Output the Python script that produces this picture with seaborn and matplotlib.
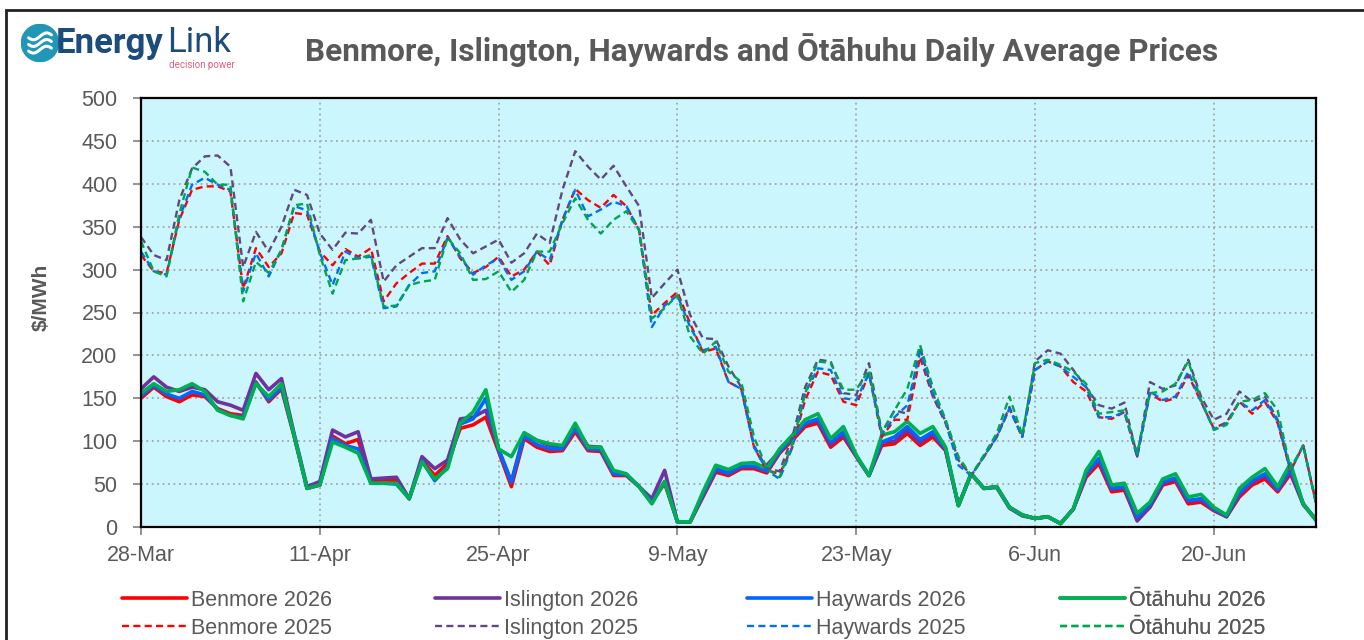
import numpy as np
import pandas as pd
import seaborn as sns
import matplotlib.pyplot as plt
from matplotlib.patches import Circle, Rectangle

# daily average prices ($/MWh), 28-Mar to 28-Jun
dates = pd.date_range("2026-03-28", "2026-06-28", freq="D")

benmore_2026 = [150, 163, 152, 146, 154, 152, 138, 132, 130, 169, 146, 161, 105, 45, 49, 106, 97, 102, 54, 55,
                54, 33, 78, 60, 74, 115, 119, 128, 88, 47, 103, 93, 88, 89, 111, 89, 88, 60, 60, 47,
                29, 51, 6, 6, 35, 64, 60, 68, 68, 63, 86, 101, 117, 121, 93, 105, 82, 60, 95, 97,
                109, 95, 105, 89, 25, 62, 45, 47, 23, 14, 10, 12, 4, 21, 58, 74, 41, 43, 8, 23,
                49, 53, 27, 29, 19, 12, 35, 49, 56, 41, 62, 27, 8]
islington_2026 = [161, 175, 163, 158, 163, 160, 146, 142, 136, 179, 160, 173, 108, 47, 53, 113, 105, 111, 56, 57,
                  58, 33, 82, 68, 78, 126, 128, 136, 91, 53, 109, 101, 95, 93, 117, 94, 93, 64, 61, 47,
                  33, 66, 6, 6, 37, 66, 62, 70, 70, 72, 88, 103, 120, 124, 96, 108, 83, 60, 99, 100,
                  113, 98, 109, 90, 25, 62, 45, 46, 22, 13, 10, 12, 4, 21, 61, 78, 44, 46, 7, 24,
                  51, 56, 30, 32, 20, 12, 38, 52, 60, 43, 65, 26, 9]
haywards_2026 = [153, 165, 155, 150, 158, 154, 137, 130, 128, 168, 148, 163, 106, 45, 49, 103, 95, 91, 51, 51,
                 50, 33, 77, 54, 70, 120, 126, 150, 90, 52, 106, 96, 91, 91, 115, 91, 90, 62, 61, 47,
                 28, 53, 6, 6, 38, 68, 63, 71, 71, 65, 88, 104, 121, 126, 99, 111, 83, 60, 99, 105,
                 117, 102, 111, 91, 25, 62, 45, 47, 23, 14, 10, 12, 4, 21, 62, 80, 45, 47, 12, 26,
                 53, 57, 31, 33, 21, 13, 40, 54, 62, 44, 68, 27, 8]
otahuhu_2026 = [156, 167, 158, 160, 167, 158, 136, 130, 126, 167, 152, 167, 106, 45, 49, 99, 93, 86, 51, 51,
                51, 33, 76, 56, 68, 121, 134, 160, 91, 82, 110, 101, 97, 95, 121, 93, 93, 66, 62, 47,
                27, 53, 6, 6, 41, 72, 67, 74, 75, 68, 91, 107, 125, 132, 103, 117, 84, 60, 107, 111,
                123, 109, 117, 93, 25, 62, 45, 47, 23, 14, 10, 12, 4, 21, 66, 88, 49, 51, 16, 29,
                56, 62, 35, 38, 23, 14, 45, 58, 68, 47, 74, 27, 8]

benmore_2025 = [317, 298, 296, 358, 393, 397, 397, 391, 278, 325, 303, 319, 366, 364, 321, 305, 324, 315, 325, 263,
                284, 296, 307, 307, 339, 313, 296, 303, 315, 292, 300, 321, 305, 358, 394, 381, 372, 387, 374, 346,
                247, 261, 274, 237, 204, 208, 169, 161, 93, 66, 62, 93, 148, 181, 177, 146, 142, 179, 105, 125,
                125, 198, 152, 121, 78, 60, 82, 105, 138, 105, 183, 193, 187, 169, 158, 128, 126, 134, 82, 156,
                146, 150, 177, 146, 115, 122, 146, 132, 146, 121, 65, 95, 28]
islington_2025 = [338, 317, 311, 381, 418, 432, 433, 420, 303, 344, 321, 350, 393, 387, 342, 323, 343, 342, 358, 286,
                  305, 315, 325, 325, 360, 335, 319, 327, 335, 308, 319, 342, 331, 393, 438, 420, 405, 421, 397, 374,
                  267, 284, 300, 247, 220, 219, 187, 163, 95, 68, 65, 105, 163, 195, 193, 156, 154, 191, 110, 136,
                  132, 210, 155, 123, 78, 60, 82, 105, 140, 105, 193, 206, 202, 183, 163, 142, 138, 145, 82, 169,
                  161, 165, 195, 152, 125, 132, 158, 146, 152, 125, 66, 95, 28]
haywards_2025 = [321, 298, 294, 360, 399, 407, 399, 393, 275, 319, 292, 323, 374, 369, 320, 282, 321, 313, 315, 255,
                 257, 282, 296, 298, 337, 315, 294, 305, 313, 288, 298, 321, 311, 358, 393, 362, 370, 379, 374, 346,
                 233, 258, 270, 233, 206, 210, 169, 161, 93, 66, 56, 93, 156, 185, 183, 150, 148, 179, 108, 128,
                 142, 204, 155, 122, 72, 60, 82, 105, 138, 105, 183, 193, 187, 175, 163, 128, 128, 134, 82, 158,
                 148, 152, 181, 146, 114, 121, 146, 136, 148, 123, 66, 95, 28]
otahuhu_2025 = [333, 298, 292, 365, 419, 414, 399, 399, 263, 309, 296, 323, 375, 377, 317, 272, 311, 313, 317, 257,
                258, 282, 286, 288, 337, 319, 288, 289, 298, 274, 288, 321, 321, 354, 383, 358, 342, 358, 368, 346,
                243, 255, 270, 222, 202, 216, 181, 169, 105, 68, 58, 97, 156, 193, 191, 160, 160, 183, 110, 136,
                161, 212, 163, 125, 82, 60, 84, 109, 152, 107, 191, 195, 189, 181, 167, 132, 134, 136, 86, 156,
                158, 167, 193, 148, 113, 119, 146, 148, 156, 136, 68, 95, 28]

series_2026 = [("Benmore 2026", benmore_2026, "#FF0000"),
               ("Islington 2026", islington_2026, "#7030A0"),
               ("Haywards 2026", haywards_2026, "#0066FF"),
               ("Ōtāhuhu 2026", otahuhu_2026, "#00B050")]
series_2025 = [("Benmore 2025", benmore_2025, "#FF0000"),
               ("Islington 2025", islington_2025, "#604A7B"),
               ("Haywards 2025", haywards_2025, "#0070F0"),
               ("Ōtāhuhu 2025", otahuhu_2025, "#00A550")]

sns.set_style("white")
plt.rcParams["font.family"] = ["Liberation Sans", "DejaVu Sans"]
grey = "#595959"

fig = plt.figure(figsize=(13.64, 6.4), dpi=100)
W, H = 1364, 640
ax = fig.add_axes([141 / W, 1 - 527 / H, (1316 - 141) / W, (527 - 98) / H])
ax.set_facecolor("#CCF6FD")

for label, vals, col in series_2026:
    sns.lineplot(x=dates, y=vals, ax=ax, color=col, lw=2.6, label=label)
for label, vals, col in series_2025:
    sns.lineplot(x=dates, y=vals, ax=ax, color=col, lw=1.7, linestyle=(0, (3, 1.8)), label=label)

ax.set_ylim(0, 500)
ax.set_yticks(range(0, 501, 50))
ax.set_xlim(dates[0], dates[-1])
xt = pd.date_range("2026-03-28", periods=7, freq="14D")
ax.set_xticks(xt)
ax.set_xticklabels([d.strftime("%-d-%b") for d in xt])
ax.grid(True, color="#A6A6A6", linestyle=(0, (1, 2)), lw=1.3)
ax.set_axisbelow(True)
for s in ax.spines.values():
    s.set_color("black")
    s.set_linewidth(1.6)
ax.tick_params(axis="both", colors="#7F7F7F", labelcolor=grey, labelsize=15.5, length=6, width=1.2)
ax.tick_params(axis="y", pad=11, left=True)
ax.tick_params(axis="x", pad=7, bottom=True)
ax.set_xlabel("")
ax.set_ylabel("$/MWh", fontsize=15, fontweight="bold", color=grey)
ax.yaxis.set_label_coords(-0.077, 0.535)

# legend: one small legend per site, 2026 over 2025
h, l = ax.get_legend_handles_labels()
ax.get_legend().remove()
for k, x0 in enumerate([122, 435, 747, 1060]):
    leg = ax.legend([h[k], h[k + 4]], [l[k], l[k + 4]], frameon=False,
                    loc="upper left", bbox_to_anchor=(x0 / W, 1 - 590 / H), bbox_transform=fig.transFigure,
                    fontsize=15.5, labelcolor=grey, handlelength=3.0, handletextpad=0.2,
                    labelspacing=0.32, borderpad=0, borderaxespad=0)
    ax.add_artist(leg)

fig.text(762 / W, 1 - 50 / H, "Benmore, Islington, Haywards and Ōtāhuhu Daily Average Prices",
         ha="center", va="center", fontsize=22.7, fontweight="bold", color=grey,
         family=["Liberation Sans Narrow", "Roboto", "DejaVu Sans"])

# outer chart border
fig.patches.append(Rectangle((6 / W, -0.1), 1.2, 1.1 - 10 / H, transform=fig.transFigure,
                             fill=False, edgecolor="#222222", lw=2))

# logo
lax = fig.add_axes([21 / W, 1 - 62 / H, 38 / W, 38 / H])
lax.set_xlim(-1, 1)
lax.set_ylim(-1, 1)
lax.set_aspect("equal")
lax.axis("off")
lax.add_patch(Circle((0, 0), 0.98, color="#2196B6"))
t = np.linspace(-0.6, 0.6, 50)
for off in (-0.35, 0.0, 0.35):
    lax.plot(t, off + 0.18 * np.sin(t * 4.5), color="white", lw=2.2, solid_capstyle="round")
fig.text(56 / W, 1 - 43 / H, "Energy", ha="left", va="center", fontsize=25, fontweight="bold",
         color="#1B4C7C", family=["Roboto", "DejaVu Sans"])
fig.text(167 / W, 1 - 43 / H, "Link", ha="left", va="center", fontsize=25,
         color="#1B4C7C", family=["Roboto", "DejaVu Sans"])
fig.text(235 / W, 1 - 65 / H, "decision power", ha="right", va="center", fontsize=7,
         color="#E0607E", family=["Roboto", "DejaVu Sans"])

plt.savefig("out.png", dpi=100)
